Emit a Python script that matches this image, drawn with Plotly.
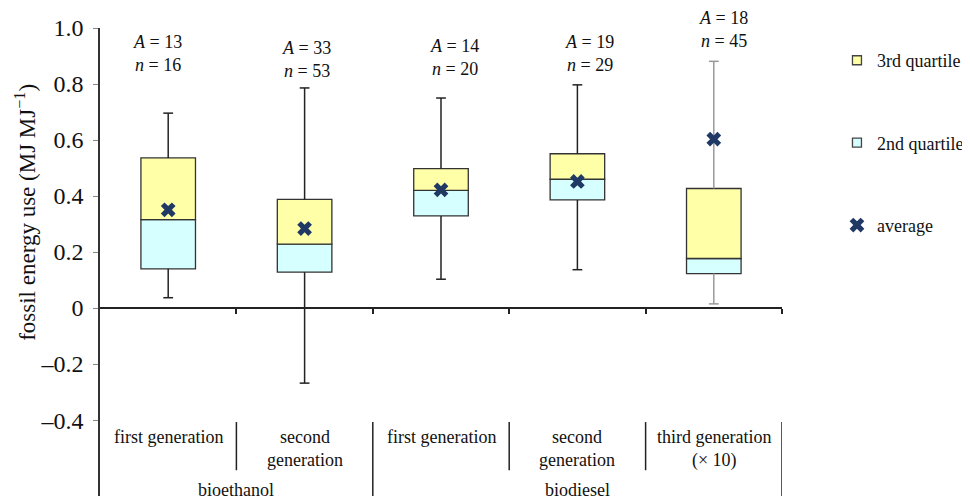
import plotly.graph_objects as go

# ---- data ----
categories = ["first generation", "second<br>generation", "first generation",
              "second<br>generation", "third generation<br>(× 10)"]
groups = ["bioethanol", "biodiesel"]
group_members = [2, 3]
lower = [0.037, -0.268, 0.103, 0.137, 0.015]
q1 = [0.140, 0.128, 0.329, 0.386, 0.123]
median = [0.316, 0.228, 0.420, 0.460, 0.177]
q3 = [0.536, 0.388, 0.498, 0.551, 0.427]
upper = [0.696, 0.786, 0.750, 0.797, 0.881]
mean = [0.351, 0.284, 0.422, 0.452, 0.603]
A_counts = [13, 33, 14, 19, 18]
n_counts = [16, 53, 20, 29, 45]
y_tickvals = [-0.4, -0.2, 0, 0.2, 0.4, 0.6, 0.8, 1.0]
y_ticktext = ["–0.4", "–0.2", "0", "0.2", "0.4", "0.6", "0.8", "1.0"]

# ---- layout constants ----
FONT = "Liberation Serif"
YMIN, YMAX = -0.671, 1.0
label_y = [0.908, 0.886, 0.895, 0.908, 0.994]
label_xshift = [-11, 2, 13, 12, 10]
whisker_colors = ["#222222", "#222222", "#222222", "#222222", "#9a9a9a"]
YELLOW = "#ffffa8"
CYAN = "#d6ffff"
NAVY = "#1f3864"

x = list(range(len(categories)))
fig = go.Figure()

# whiskers
for i in x:
    fig.add_trace(go.Scatter(
        x=[i, i, None, i, i], y=[q3[i], upper[i], None, lower[i], q1[i]],
        mode="lines", line=dict(color=whisker_colors[i], width=1.5),
        showlegend=False, hoverinfo="skip"))
    fig.add_trace(go.Scatter(
        x=[i, i], y=[upper[i], lower[i]], mode="markers",
        marker=dict(symbol="line-ew", size=7,
                    line=dict(color=whisker_colors[i], width=1.5)),
        showlegend=False, hoverinfo="skip"))

# boxes
fig.add_trace(go.Bar(
    x=x, y=[m - a for m, a in zip(median, q1)], base=q1, width=0.4,
    marker=dict(color=CYAN, line=dict(color="#333333", width=1.3)),
    name="2nd quartile", legendgroup="b", showlegend=False))
fig.add_trace(go.Bar(
    x=x, y=[b - m for b, m in zip(q3, median)], base=median, width=0.4,
    marker=dict(color=YELLOW, line=dict(color="#333333", width=1.3)),
    name="3rd quartile", legendgroup="a", showlegend=False))

# legend entries for the box halves (small squares, as in the original)
for name, col, grp, rank in [("3rd quartile", YELLOW, "a", 1),
                             ("2nd quartile", CYAN, "b", 2)]:
    fig.add_trace(go.Scatter(
        x=[None], y=[None], mode="markers", name=name, legendgroup=grp,
        legendrank=rank,
        marker=dict(symbol="square", size=9, color=col,
                    line=dict(color="#444444", width=1.3))))

# means
fig.add_trace(go.Scatter(
    x=x, y=mean, mode="markers", name="average", legendgroup="c", legendrank=3,
    marker=dict(symbol="x", size=13, color=NAVY, line=dict(width=0))))

# A / n labels
for i in x:
    fig.add_annotation(
        x=i, y=label_y[i], xref="x", yref="y", xshift=label_xshift[i],
        text=f"<i>A</i> = {A_counts[i]}<br><i>n</i> = {n_counts[i]}",
        showarrow=False, yanchor="middle",
        font=dict(family=FONT, size=18, color="#111"))

# category labels
for i in x:
    fig.add_annotation(
        x=i, y=-0.418, xref="x", yref="y", text=categories[i],
        showarrow=False, yanchor="top",
        font=dict(family=FONT, size=18, color="#111"))

# table separators
line_style = dict(color="#222222", width=1.5)
start = -0.5
for g, cnt in zip(groups, group_members):
    end = start + cnt
    fig.add_annotation(
        x=(start + end) / 2, y=-0.65, xref="x", yref="y", text=g,
        showarrow=False, yanchor="middle",
        font=dict(family=FONT, size=18, color="#111"))
    for k in range(1, cnt):
        fig.add_shape(type="line", x0=start + k, x1=start + k, y0=-0.407, y1=-0.579,
                      xref="x", yref="y", line=line_style)
    fig.add_shape(type="line", x0=end, x1=end, y0=-0.407, y1=YMIN,
                  xref="x", yref="y", line=line_style)
    start = end

# y title
fig.add_annotation(
    x=0, y=0.605, xref="paper", yref="paper", xshift=-74,
    text="fossil energy use (MJ MJ<sup>−1</sup>)", textangle=-90,
    showarrow=False, xanchor="center", yanchor="middle",
    font=dict(family=FONT, size=23, color="#111"))

fig.update_layout(
    width=962, height=488,
    margin=dict(l=92, r=188, t=20, b=0, autoexpand=False),
    paper_bgcolor="white", plot_bgcolor="white",
    barmode="overlay",
    font=dict(family=FONT, color="#111"),
    xaxis=dict(range=[-0.5, 4.5], anchor="free",
               position=(0 - YMIN) / (YMAX - YMIN),
               showline=True, linecolor="#222222", linewidth=1.5,
               ticks="outside", ticklen=5, tickcolor="#222222", tickwidth=1.5,
               tickvals=[k + 0.5 for k in x], showticklabels=False,
               showgrid=False, zeroline=False, automargin=False),
    yaxis=dict(range=[YMIN, YMAX], tickvals=y_tickvals, ticktext=y_ticktext,
               showline=True, linecolor="#333333", linewidth=1.5,
               ticks="outside", ticklen=5, tickcolor="#888888",
               tickfont=dict(family=FONT, size=24, color="#111"),
               ticklabelstandoff=5, automargin=False,
               showgrid=False, zeroline=False),
    legend=dict(x=1.0806, y=0.97, xanchor="left", yanchor="top",
                tracegroupgap=56, font=dict(family=FONT, size=18, color="#111"),
                itemwidth=30, bgcolor="rgba(0,0,0,0)"),
)

fig.write_html("out.html")
